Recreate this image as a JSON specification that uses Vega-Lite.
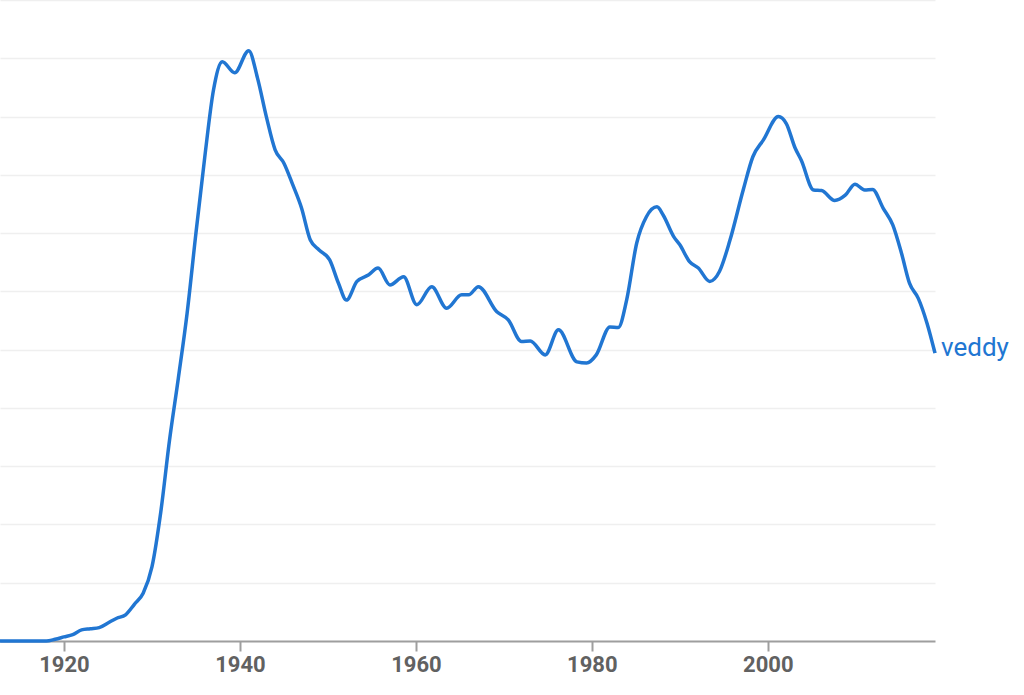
{
  "$schema": "https://vega.github.io/schema/vega-lite/v6.json",
  "width": 935,
  "height": 641,
  "autosize": {"type": "none"},
  "padding": {"left": 0, "top": 0, "right": 89, "bottom": 54},
  "background": "white",
  "config": {"view": {"stroke": null}},
  "data": {"values": [
    {"year": 1912.7, "v": 0.0, "term": "veddy"},
    {"year": 1915, "v": 0.0, "term": "veddy"},
    {"year": 1918, "v": 0.0, "term": "veddy"},
    {"year": 1919, "v": 0.03, "term": "veddy"},
    {"year": 1920, "v": 0.07, "term": "veddy"},
    {"year": 1921, "v": 0.11, "term": "veddy"},
    {"year": 1922, "v": 0.19, "term": "veddy"},
    {"year": 1923, "v": 0.21, "term": "veddy"},
    {"year": 1924, "v": 0.23, "term": "veddy"},
    {"year": 1925, "v": 0.31, "term": "veddy"},
    {"year": 1926, "v": 0.39, "term": "veddy"},
    {"year": 1927, "v": 0.45, "term": "veddy"},
    {"year": 1928, "v": 0.63, "term": "veddy"},
    {"year": 1929, "v": 0.82, "term": "veddy"},
    {"year": 1930, "v": 1.27, "term": "veddy"},
    {"year": 1931, "v": 2.21, "term": "veddy"},
    {"year": 1932, "v": 3.45, "term": "veddy"},
    {"year": 1933, "v": 4.51, "term": "veddy"},
    {"year": 1934, "v": 5.63, "term": "veddy"},
    {"year": 1935, "v": 7.0, "term": "veddy"},
    {"year": 1936, "v": 8.3, "term": "veddy"},
    {"year": 1937, "v": 9.46, "term": "veddy"},
    {"year": 1938, "v": 9.94, "term": "veddy"},
    {"year": 1939.4, "v": 9.75, "term": "veddy"},
    {"year": 1941, "v": 10.13, "term": "veddy"},
    {"year": 1942, "v": 9.66, "term": "veddy"},
    {"year": 1943, "v": 9.0, "term": "veddy"},
    {"year": 1944, "v": 8.43, "term": "veddy"},
    {"year": 1945, "v": 8.2, "term": "veddy"},
    {"year": 1946, "v": 7.83, "term": "veddy"},
    {"year": 1947, "v": 7.43, "term": "veddy"},
    {"year": 1948, "v": 6.88, "term": "veddy"},
    {"year": 1949, "v": 6.71, "term": "veddy"},
    {"year": 1950.2, "v": 6.54, "term": "veddy"},
    {"year": 1951.2, "v": 6.14, "term": "veddy"},
    {"year": 1952.1, "v": 5.85, "term": "veddy"},
    {"year": 1953.3, "v": 6.17, "term": "veddy"},
    {"year": 1954.6, "v": 6.28, "term": "veddy"},
    {"year": 1955.7, "v": 6.4, "term": "veddy"},
    {"year": 1957.05, "v": 6.11, "term": "veddy"},
    {"year": 1958.6, "v": 6.25, "term": "veddy"},
    {"year": 1960.1, "v": 5.77, "term": "veddy"},
    {"year": 1961.8, "v": 6.08, "term": "veddy"},
    {"year": 1963.5, "v": 5.71, "term": "veddy"},
    {"year": 1965.2, "v": 5.94, "term": "veddy"},
    {"year": 1966, "v": 5.94, "term": "veddy"},
    {"year": 1967.1, "v": 6.08, "term": "veddy"},
    {"year": 1969.2, "v": 5.65, "term": "veddy"},
    {"year": 1970.5, "v": 5.51, "term": "veddy"},
    {"year": 1972, "v": 5.14, "term": "veddy"},
    {"year": 1973, "v": 5.15, "term": "veddy"},
    {"year": 1974.7, "v": 4.91, "term": "veddy"},
    {"year": 1976.2, "v": 5.34, "term": "veddy"},
    {"year": 1978.3, "v": 4.79, "term": "veddy"},
    {"year": 1979.4, "v": 4.77, "term": "veddy"},
    {"year": 1980.5, "v": 4.91, "term": "veddy"},
    {"year": 1982.05, "v": 5.39, "term": "veddy"},
    {"year": 1983, "v": 5.38, "term": "veddy"},
    {"year": 1983.95, "v": 5.85, "term": "veddy"},
    {"year": 1985.1, "v": 6.83, "term": "veddy"},
    {"year": 1986.2, "v": 7.28, "term": "veddy"},
    {"year": 1987.4, "v": 7.45, "term": "veddy"},
    {"year": 1988.1, "v": 7.31, "term": "veddy"},
    {"year": 1989.3, "v": 6.94, "term": "veddy"},
    {"year": 1990, "v": 6.8, "term": "veddy"},
    {"year": 1991.1, "v": 6.51, "term": "veddy"},
    {"year": 1992.1, "v": 6.4, "term": "veddy"},
    {"year": 1993.4, "v": 6.17, "term": "veddy"},
    {"year": 1994.5, "v": 6.34, "term": "veddy"},
    {"year": 1995.7, "v": 6.88, "term": "veddy"},
    {"year": 1997.2, "v": 7.74, "term": "veddy"},
    {"year": 1998.3, "v": 8.31, "term": "veddy"},
    {"year": 1999.5, "v": 8.6, "term": "veddy"},
    {"year": 2001.2, "v": 9.0, "term": "veddy"},
    {"year": 2002.1, "v": 8.88, "term": "veddy"},
    {"year": 2003.1, "v": 8.46, "term": "veddy"},
    {"year": 2003.8, "v": 8.25, "term": "veddy"},
    {"year": 2005.2, "v": 7.74, "term": "veddy"},
    {"year": 2006.1, "v": 7.73, "term": "veddy"},
    {"year": 2007.6, "v": 7.56, "term": "veddy"},
    {"year": 2008.8, "v": 7.65, "term": "veddy"},
    {"year": 2009.9, "v": 7.84, "term": "veddy"},
    {"year": 2011.0, "v": 7.74, "term": "veddy"},
    {"year": 2011.9, "v": 7.75, "term": "veddy"},
    {"year": 2013.1, "v": 7.43, "term": "veddy"},
    {"year": 2014.2, "v": 7.14, "term": "veddy"},
    {"year": 2015.2, "v": 6.65, "term": "veddy"},
    {"year": 2016.1, "v": 6.14, "term": "veddy"},
    {"year": 2017.1, "v": 5.88, "term": "veddy"},
    {"year": 2018.1, "v": 5.45, "term": "veddy"},
    {"year": 2019.0, "v": 4.94, "term": "veddy"}
  ]},
  "layer": [
    {
      "mark": {"type": "line", "interpolate": "monotone", "color": "#2176d2", "strokeWidth": 3.5, "clip": false},
      "encoding": {
        "x": {
          "field": "year", "type": "quantitative",
          "scale": {"domain": [1912.73, 2019.0], "nice": false, "zero": false},
          "axis": {
            "title": null, "values": [1920, 1940, 1960, 1980, 2000], "format": "d",
            "grid": false, "domainColor": "#9e9e9e", "domainWidth": 2,
            "tickColor": "#9e9e9e", "tickWidth": 2, "tickSize": 10,
            "labelColor": "#616161", "labelFont": "Roboto", "labelFontSize": 22, "labelFontWeight": "bold",
            "labelPadding": 3
          }
        },
        "y": {
          "field": "v", "type": "quantitative",
          "scale": {"domain": [0, 11], "nice": false},
          "axis": {
            "title": null, "values": [1, 2, 3, 4, 5, 6, 7, 8, 9, 10, 11], "labels": false, "ticks": false, "domain": false,
            "grid": true, "gridColor": "#efefef", "gridWidth": 1.5
          }
        }
      }
    },
    {
      "transform": [{"filter": "datum.year >= 2019"}],
      "mark": {"type": "text", "align": "left", "baseline": "alphabetic", "dx": 6, "dy": 3, "font": "Roboto", "fontSize": 26, "color": "#2176d2", "clip": false},
      "encoding": {
        "x": {"field": "year", "type": "quantitative"},
        "y": {"field": "v", "type": "quantitative"},
        "text": {"field": "term"}
      }
    }
  ]
}
